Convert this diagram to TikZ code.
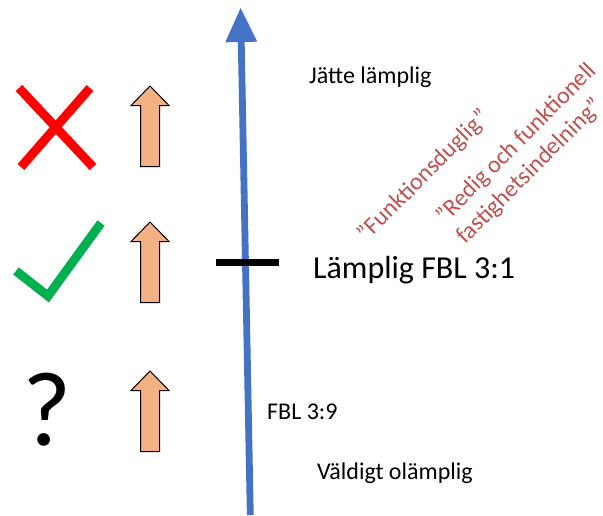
\documentclass[tikz,border=0pt]{standalone}
\usepackage{fontspec}
\setmainfont{Carlito}
\usetikzlibrary{arrows.meta}
\definecolor{axisblue}{RGB}{68,114,196}
\definecolor{arrowfill}{RGB}{244,177,131}
\definecolor{quotered}{RGB}{192,80,77}
\definecolor{checkgreen}{RGB}{0,176,80}
\begin{document}
\begin{tikzpicture}[x=1pt,y=-1pt,
  lbl/.style={inner sep=0pt, anchor=base west, font=\fontsize{24}{29}\selectfont},
  biglbl/.style={inner sep=0pt, anchor=base west, font=\fontsize{32}{38}\selectfont},
  redtext/.style={inner sep=0pt, text=quotered, rotate=45, font=\fontsize{24}{29.3}\selectfont},
  uparrow/.pic={\draw[fill=arrowfill, line width=1pt, line join=miter]
     (0,0) -- (19,19.5) -- (9.5,19.5) -- (9.5,80.5) -- (-9.5,80.5) -- (-9.5,19.5) -- (-19,19.5) -- cycle;},
  markline/.style={line width=9pt}
]
\useasboundingbox (0,0) rectangle (603,515);

% axis
\coordinate (axbot) at (250.3,515);
\coordinate (axtop) at (240.6,8);
\draw[axisblue, line width=6.8pt, -{Triangle[width=32pt,length=34pt,line width=0pt]}] (axbot) -- (axtop);

% tick
\coordinate (tickL) at (216,262.5);
\coordinate (tickR) at (278.5,262.5);
\draw[black, line width=6.5pt] (tickL) -- (tickR);

% orange arrows
\pic at (150,86) {uparrow};
\pic at (150,222) {uparrow};
\pic at (150,371) {uparrow};

% red cross
\draw[red, markline] (19,88) -- (93,167);
\draw[red, markline] (90,88) -- (21,167);

% green check
\draw[checkgreen, markline, line join=miter] (16,271) -- (48,296) -- (101,223);

% question mark
\node[inner sep=0pt, anchor=base, font=\fontsize{106}{110}\selectfont] (qmark) at (47.5,445) {?};

% labels
\node[lbl] (jatte) at (309,83) {Jätte lämplig};
\node[biglbl] (lamplig) at (313,278.3) {Lämplig FBL 3:1};
\node[lbl] (fbl9) at (267,419.3) {FBL 3:9};
\node[lbl] (valdigt) at (317,479.3) {Väldigt olämplig};

% rotated red texts
\node[redtext] (funk) at (424,176) {”Funktionsduglig”};
\node[redtext, align=left] (redig) at (527,154) {”Redig och funktionell\\fastighetsindelning”};
\end{tikzpicture}
\end{document}
